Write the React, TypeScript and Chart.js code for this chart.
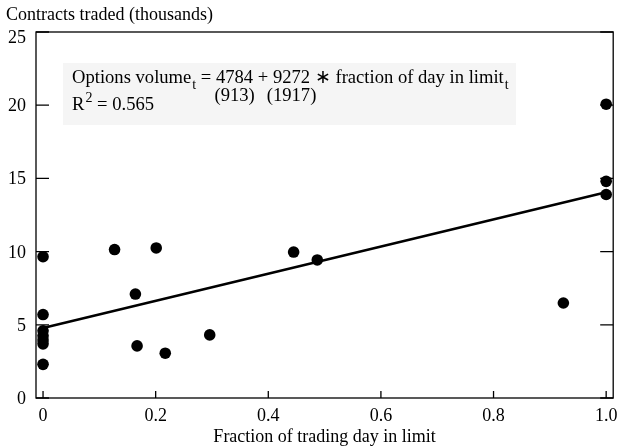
import React, { useEffect, useRef } from "react";
import { Chart, registerables } from "chart.js";

Chart.register(...registerables);

const fractionInLimit = [0, 0, 0, 0, 0, 0, 0, 0.127, 0.201, 0.164, 0.167, 0.217, 0.296, 0.445, 0.487, 0.924, 1.0, 1.0, 1.0];
const contractsTraded = [9.65, 5.7, 4.59, 4.25, 3.97, 3.7, 2.3, 10.14, 10.25, 7.1, 3.56, 3.06, 4.31, 9.97, 9.43, 6.49, 20.07, 14.8, 13.9];
const fitX = [0, 1];
const fitY = [4.784, 14.056];
const xTickValues = [0, 0.2, 0.4, 0.6, 0.8, 1.0];
const xTickLabels = ["0", "0.2", "0.4", "0.6", "0.8", "1.0"];
const yTickValues = [0, 5, 10, 15, 20, 25];
const yTickLabels = ["0", "5", "10", "15", "20", "25"];
const yTitle = "Contracts traded (thousands)";
const xTitle = "Fraction of trading day in limit";
const eqLeft = "Options volume";
const eqMid = " = ";
const eqA = "4784";
const eqPlus = " + ";
const eqB = "9272";
const eqRest = " \u2217 fraction of day in limit";
const eqSeA = "(913)";
const eqSeB = "(1917)";
const r2Value = " = 0.565";

const FONT = "18px 'Liberation Serif'";
const EQ_FONT = "18.6px 'Liberation Serif'";
const SMALL = "14px 'Liberation Serif'";

const framePlugin = {
  id: "frame",
  afterDraw(chart: any) {
    const ctx = chart.ctx;
    const a = chart.chartArea;
    const xs = chart.scales.x;
    const ys = chart.scales.y;
    ctx.save();
    ctx.strokeStyle = "#000";
    ctx.lineWidth = 1.3;
    ctx.strokeRect(a.left, a.top, a.right - a.left, a.bottom - a.top);
    ctx.beginPath();
    yTickValues.forEach((v) => {
      const y = ys.getPixelForValue(v);
      ctx.moveTo(a.left, y);
      ctx.lineTo(a.left + 13, y);
      ctx.moveTo(a.right, y);
      ctx.lineTo(a.right - 13, y);
    });
    xTickValues.forEach((v) => {
      const x = xs.getPixelForValue(v);
      ctx.moveTo(x, a.bottom);
      ctx.lineTo(x, a.bottom - 7);
    });
    ctx.stroke();
    ctx.fillStyle = "#000";
    ctx.font = FONT;
    ctx.textBaseline = "alphabetic";
    ctx.textAlign = "right";
    yTickValues.forEach((v, i) => {
      const ty = ys.getPixelForValue(v);
      ctx.fillText(yTickLabels[i], a.left - 10, Math.max(ty + 6, a.top + 11));
    });
    ctx.textAlign = "center";
    xTickValues.forEach((v, i) => {
      ctx.fillText(xTickLabels[i], xs.getPixelForValue(v), a.bottom + 23);
    });
    ctx.fillText(xTitle, (a.left + a.right) / 2, a.bottom + 44);
    ctx.textAlign = "left";
    ctx.fillText(yTitle, 6, 20);
    ctx.restore();
  },
  beforeDatasetsDraw(chart: any) {
    const ctx = chart.ctx;
    ctx.save();
    ctx.fillStyle = "#f5f5f5";
    ctx.fillRect(63, 63, 453, 62);
    ctx.fillStyle = "#000";
    ctx.textBaseline = "alphabetic";
    ctx.textAlign = "left";
    let x = 72;
    const y1 = 83;
    ctx.font = EQ_FONT;
    ctx.fillText(eqLeft, x, y1);
    x += ctx.measureText(eqLeft).width;
    ctx.font = SMALL;
    ctx.fillText("t", x + 1, y1 + 6);
    x += ctx.measureText("t").width + 1;
    ctx.font = EQ_FONT;
    ctx.fillText(eqMid, x, y1);
    x += ctx.measureText(eqMid).width;
    const aX = x;
    const aW = ctx.measureText(eqA).width;
    ctx.fillText(eqA, x, y1);
    x += aW;
    ctx.fillText(eqPlus, x, y1);
    x += ctx.measureText(eqPlus).width;
    const bX = x;
    const bW = ctx.measureText(eqB).width;
    ctx.fillText(eqB, x, y1);
    x += bW;
    ctx.fillText(eqRest, x, y1);
    x += ctx.measureText(eqRest).width;
    ctx.font = SMALL;
    ctx.fillText("t", x + 1, y1 + 6);
    ctx.font = EQ_FONT;
    ctx.textAlign = "center";
    ctx.fillText(eqSeA, aX + aW / 2, y1 + 18);
    ctx.fillText(eqSeB, bX + bW / 2, y1 + 18);
    ctx.textAlign = "left";
    const y3 = 110;
    let rx = 72;
    ctx.fillText("R", rx, y3);
    rx += ctx.measureText("R").width;
    ctx.font = SMALL;
    ctx.fillText("2", rx + 1, y3 - 8);
    rx += ctx.measureText("2").width + 1;
    ctx.font = EQ_FONT;
    ctx.fillText(r2Value, rx, y3);
    ctx.restore();
  },
};

export default function App() {
  const ref = useRef<HTMLCanvasElement>(null);
  useEffect(() => {
    document.body.style.margin = "0";
    const points = fractionInLimit.map((v, i) => ({ x: v, y: contractsTraded[i] }));
    const fit = fitX.map((v, i) => ({ x: v, y: fitY[i] }));
    const chart = new Chart(ref.current as HTMLCanvasElement, {
      type: "scatter",
      data: {
        datasets: [
          {
            data: points,
            backgroundColor: "#000",
            borderColor: "#000",
            pointRadius: 5.8,
            pointHoverRadius: 5.8,
            borderWidth: 0,
          },
          {
            type: "line",
            data: fit,
            borderColor: "#000",
            borderWidth: 2.5,
            pointRadius: 0,
            showLine: true,
            fill: false,
          } as any,
        ],
      },
      options: {
        animation: false,
        responsive: false,
        maintainAspectRatio: false,
        layout: { padding: { left: 36, right: 3, top: 32, bottom: 49 } },
        plugins: { legend: { display: false }, tooltip: { enabled: false }, title: { display: false } },
        scales: {
          x: { type: "linear", display: false, min: -0.0125, max: 1.0125 },
          y: { type: "linear", display: false, min: 0, max: 25 },
        },
      },
      plugins: [framePlugin],
    });
    return () => chart.destroy();
  }, []);
  return <canvas ref={ref} width={619} height={447} style={{ display: "block" }} />;
}
